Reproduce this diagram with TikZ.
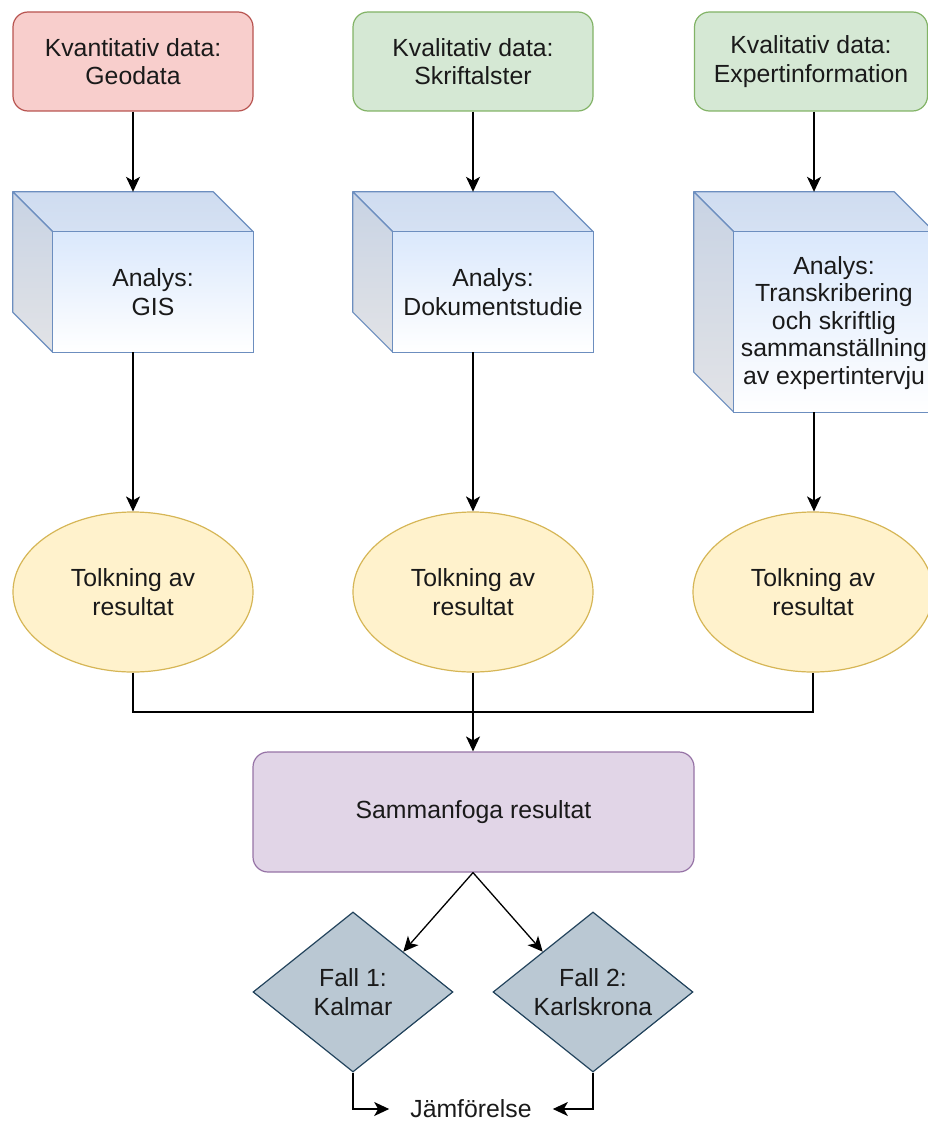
\documentclass[tikz,border=0pt]{standalone}
\usepackage{fontspec}
\setmainfont{Liberation Sans}
\usetikzlibrary{shapes.geometric,arrows.meta,calc}
\definecolor{redfill}{HTML}{F8CECC}
\definecolor{redline}{HTML}{B85450}
\definecolor{greenfill}{HTML}{D5E8D4}
\definecolor{greenline}{HTML}{82B366}
\definecolor{bluefill}{HTML}{DAE8FC}
\definecolor{blueline}{HTML}{6C8EBF}
\definecolor{bluetop}{HTML}{CFDCF0}
\definecolor{bluetopb}{HTML}{D5E1F3}
\definecolor{sidetop}{HTML}{C8D3E4}
\definecolor{sidebot}{HTML}{E2E3E6}
\definecolor{ellfill}{HTML}{FFF2CC}
\definecolor{ellline}{HTML}{D6B656}
\definecolor{purfill}{HTML}{E1D5E7}
\definecolor{purline}{HTML}{9673A6}
\definecolor{diafill}{HTML}{BAC8D3}
\definecolor{dialine}{HTML}{23445D}
\definecolor{txt}{HTML}{1A1A1A}
\newcommand\drawcube[1]{%
  \path[shade, top color=bluetop, bottom color=bluetopb, draw=blueline, line width=1.2pt, line join=round]
    (#1.north west) -- ($(#1.north east)+(-40,0)$) -- ($(#1.north east)+(0,40)$) -- ($(#1.north west)+(40,40)$) -- cycle;
  \path[shade, top color=sidetop, bottom color=sidebot, draw=blueline, line width=1.2pt, line join=round]
    (#1.north west) -- ($(#1.north west)+(40,40)$) -- ($(#1.south west)+(40,0)$) -- ($(#1.south west)+(0,-40)$) -- cycle;
  \path[shade, top color=bluefill, bottom color=white, draw=blueline, line width=1.2pt]
    ($(#1.north west)+(40,40)$) rectangle (#1.south east);
}
\begin{document}
\begin{tikzpicture}[x=1pt, y=-1pt,
  font=\fontsize{24.8}{28.5}\selectfont,
  every node/.style={text=txt},
  box/.style={rectangle, rounded corners=15pt, line width=1.2pt, minimum width=240pt, minimum height=99pt, align=center, inner sep=0pt},
  redbox/.style={box, draw=redline, fill=redfill},
  greenbox/.style={box, draw=greenline, fill=greenfill},
  cubebox/.style={rectangle, minimum width=240pt, inner sep=0pt},
  cubetext/.style={align=center, inner sep=0pt},
  ell/.style={ellipse, draw=ellline, fill=ellfill, line width=1.2pt, minimum width=240pt, minimum height=160pt, inner sep=0pt, align=center},
  purbox/.style={rectangle, rounded corners=15pt, draw=purline, fill=purfill, line width=1.2pt, minimum width=441pt, minimum height=120pt, align=center, inner sep=0pt},
  dia/.style={diamond, aspect=1.25, draw=dialine, fill=diafill, line width=1.2pt, minimum width=200pt, minimum height=160pt, inner sep=0pt, align=center},
  arr/.style={draw=black, line width=1.3pt, -{Stealth[length=15pt, width=14pt, inset=4pt]}},
  conn/.style={draw=black, line width=1.3pt}
]
\useasboundingbox (0,0) rectangle (928,1121);
\clip (0,0) rectangle (928,1121);

% top boxes
\node[redbox] (t1) at (133,61.5) {Kvantitativ data:\\Geodata};
\node[greenbox] (t2) at (473,61.5) {Kvalitativ data:\\Skriftalster};
\node[greenbox, minimum width=233pt] (t3) at (811,61.5) {Kvalitativ data:\\Expertinformation};

% cubes
\node[cubebox, minimum height=160pt] (c1) at (133,272) {};
\node[cubebox, minimum height=160pt] (c2) at (473,272) {};
\node[cubebox, minimum height=220pt] (c3) at (814,302) {};
\drawcube{c1}
\drawcube{c2}
\drawcube{c3}
\node[cubetext] (c1t) at (153,292) {Analys:\\GIS};
\node[cubetext] (c2t) at (493,292) {Analys:\\Dokumentstudie};
\node[cubetext, font=\fontsize{24.8}{27.5}\selectfont] (c3t) at (834,323) {Analys:\\Transkribering\\och skriftlig\\sammanställning\\av expertintervju};

% ellipses
\node[ell] (e1) at (133,592) {Tolkning av\\resultat};
\node[ell] (e2) at (473,592) {Tolkning av\\resultat};
\node[ell] (e3) at (813,592) {Tolkning av\\resultat};

% merge box
\node[purbox] (s) at (473.5,812) {Sammanfoga resultat};

% diamonds
\node[dia] (d1) at (353,992) {Fall 1:\\Kalmar};
\node[dia] (d2) at (593,992) {Fall 2:\\Karlskrona};

% comparison
\node[inner xsep=21pt, inner ysep=0pt] (jam) at (471,1109) {Jämförelse};

\coordinate (j) at (473,712);

% connectors
\draw[arr] (t1.south) -- (c1.north);
\draw[arr] (t2.south) -- (c2.north);
\draw[arr] (t3.south -| c3.north) -- (c3.north);
\draw[arr] (c1.south) -- (e1.north);
\draw[arr] (c2.south) -- (e2.north);
\draw[arr] (c3.south) -- (e3.north -| c3.south);
\draw[conn] (e1.south) |- (j) -| (e3.south);
\draw[arr] (e2.south) -- (s.north -| e2.south);
\draw[arr] (s.south -| e2.south) -- ($(d1.north)!0.5!(d1.east)$);
\draw[arr] (s.south -| e2.south) -- ($(d2.north)!0.5!(d2.west)$);
\draw[arr] (d1.south) |- (jam.west);
\draw[arr] (d2.south) |- (jam.east);
\end{tikzpicture}
\end{document}
